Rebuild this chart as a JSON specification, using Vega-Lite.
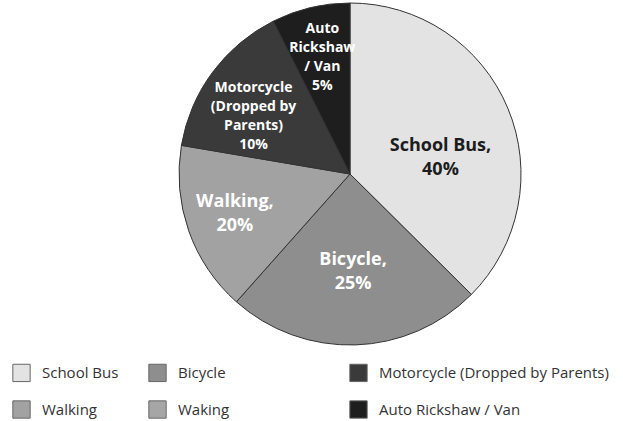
{
  "$schema": "https://vega.github.io/schema/vega-lite/v6.json",
  "autosize": "none",
  "width": 546,
  "height": 348,
  "padding": {"left": 77, "top": 0, "right": 0, "bottom": 73},
  "background": "white",
  "config": {"view": {"stroke": null}, "font": "Open Sans"},
  "data": {
    "values": [
      {"mode": "School Bus", "share": 37.4, "label": "School Bus,\n40%", "rank": 1},
      {"mode": "Bicycle", "share": 24.1, "label": "Bicycle,\n25%", "rank": 2},
      {"mode": "Walking", "share": 16.1, "label": "Walking,\n20%", "rank": 3},
      {"mode": "Motorcycle (Dropped by Parents)", "share": 14.9, "label": "Motorcycle\n(Dropped by\nParents)\n10%", "rank": 4},
      {"mode": "Auto Rickshaw / Van", "share": 7.4, "label": "Auto\nRickshaw\n/ Van\n5%", "rank": 5}
    ]
  },
  "encoding": {
    "theta": {"field": "share", "type": "quantitative", "stack": true},
    "order": {"field": "rank", "type": "quantitative"}
  },
  "layer": [
    {
      "mark": {"type": "arc", "outerRadius": 171, "stroke": "#333333", "strokeWidth": 1},
      "encoding": {
        "color": {
          "field": "mode",
          "type": "nominal",
          "scale": {
            "domain": ["School Bus", "Bicycle", "Motorcycle (Dropped by Parents)", "Walking", "Waking", "Auto Rickshaw / Van"],
            "range": ["#e3e3e3", "#8e8e8e", "#3a3a3a", "#a2a2a2", "#a6a6a6", "#1e1e1e"]
          },
          "legend": {
            "title": null,
            "orient": "none",
            "legendX": -65,
            "legendY": 363,
            "direction": "horizontal",
            "columns": 3,
            "symbolType": "square",
            "symbolSize": 300,
            "symbolStrokeColor": "#666666",
            "symbolStrokeWidth": 1,
            "symbolOpacity": 1,
            "labelFont": "Open Sans",
            "labelFontSize": 15,
            "labelColor": "#333333",
            "labelOffset": 11,
            "labelLimit": 320,
            "rowPadding": 14,
            "columnPadding": 27,
            "labelExpr": "datum.label === 'Bicycle' ? 'Bicycle\u00a0\u00a0\u00a0\u00a0\u00a0\u00a0\u00a0\u00a0\u00a0\u00a0\u00a0\u00a0\u00a0\u00a0\u00a0\u00a0\u00a0\u00a0\u00a0\u00a0\u00a0\u00a0\u00a0\u00a0\u200b' : datum.label"
          }
        }
      }
    },
    {
      "mark": {"type": "text", "radius": 98, "dy": 9.5, "font": "Open Sans", "fontWeight": "bold", "fontSize": 18, "lineHeight": 24, "lineBreak": "\n", "align": "center", "baseline": "middle", "color": "#1c1c1c"},
      "encoding": {
        "text": {"condition": {"test": "datum.mode === 'School Bus'", "field": "label"}, "value": ""}
      }
    },
    {
      "mark": {"type": "text", "radius": 98, "dy": -12, "font": "Open Sans", "fontWeight": "bold", "fontSize": 18, "lineHeight": 24, "lineBreak": "\n", "align": "center", "baseline": "middle", "color": "#ffffff"},
      "encoding": {
        "text": {"condition": {"test": "datum.mode === 'Bicycle'", "field": "label"}, "value": ""}
      }
    },
    {
      "mark": {"type": "text", "radius": 122, "dy": -12, "font": "Open Sans", "fontWeight": "bold", "fontSize": 18, "lineHeight": 24, "lineBreak": "\n", "align": "center", "baseline": "middle", "color": "#ffffff"},
      "encoding": {
        "text": {"condition": {"test": "datum.mode === 'Walking'", "field": "label"}, "value": ""}
      }
    },
    {
      "mark": {"type": "text", "radius": 120, "dy": -14.5, "font": "Open Sans", "fontWeight": "bold", "fontSize": 14, "lineHeight": 19, "lineBreak": "\n", "align": "center", "baseline": "middle", "color": "#ffffff"},
      "encoding": {
        "text": {"condition": {"test": "datum.mode === 'Motorcycle (Dropped by Parents)'", "field": "label"}, "value": ""}
      }
    },
    {
      "mark": {"type": "text", "radius": 120, "dy": -28.5, "font": "Open Sans", "fontWeight": "bold", "fontSize": 14, "lineHeight": 19, "lineBreak": "\n", "align": "center", "baseline": "middle", "color": "#ffffff"},
      "encoding": {
        "text": {"condition": {"test": "datum.mode === 'Auto Rickshaw / Van'", "field": "label"}, "value": ""}
      }
    }
  ]
}
